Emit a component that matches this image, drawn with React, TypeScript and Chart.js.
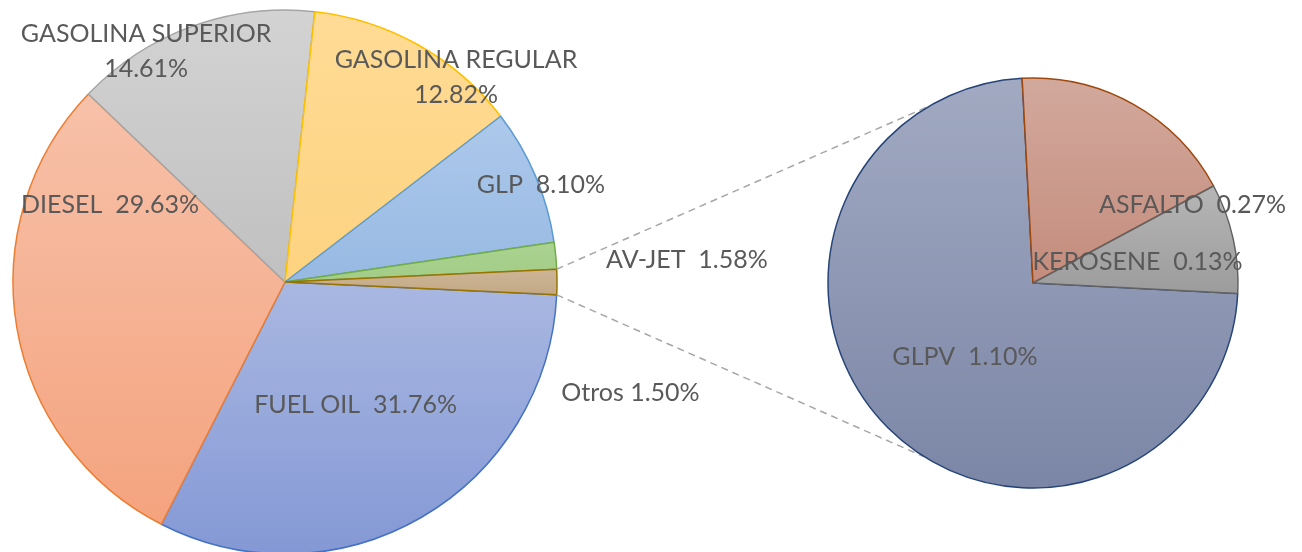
import React, { useEffect, useRef } from "react";
import { Chart, registerables } from "chart.js";

Chart.register(...registerables);

// ---------- data ----------
const mainCategories = ["FUEL OIL", "DIESEL", "GASOLINA SUPERIOR", "GASOLINA REGULAR", "GLP", "AV-JET", "Otros"];
const mainValues = [31.76, 29.63, 14.61, 12.82, 8.1, 1.58, 1.5];
const subCategories = ["GLPV", "ASFALTO", "KEROSENE"];
const subValues = [1.1, 0.27, 0.13];

// ---------- styles ----------
const mainFillTop = ["#A9B8E1", "#F7C1A9", "#D3D3D3", "#FFDB95", "#ADC9EB", "#ABD291", "#CCB597"];
const mainFillBottom = ["#8498D5", "#F4A37E", "#C0C0C0", "#FDD381", "#97B9E2", "#A2CC86", "#C3A884"];
const mainBorder = ["#4472C4", "#ED7D31", "#A5A5A5", "#FFC000", "#5B9BD5", "#70AD47", "#997300"];
const subFillTop = ["#A2AAC2", "#D2A99D", "#B6B6B6"];
const subFillBottom = ["#7B86A6", "#C48C7C", "#9C9C9C"];
const subBorder = ["#264478", "#9E480E", "#636363"];

const MAIN_ROTATION = 92.7;
const SUB_ROTATION = 92.96;
const MAIN_RADIUS = 272;
const SUB_RADIUS = 205;

// label placement: angle (deg, screen) and distance (fraction of radius) from pie centre
const mainLabelAngle = [59.9, 204.0, 239.1, 309.7, 339.0, 356.7, 17.7];
const mainLabelDist = [0.517, 0.704, 0.994, 0.984, 1.008, 1.48, 1.333];
const mainLabelSplit = [false, false, true, true, false, false, false];
const mainLabelSep = ["  ", "  ", "", "", "  ", "  ", " "];
const subLabelAngle = [133.0, 333.7, 348.1];
const subLabelDist = [0.487, 0.868, 0.521];
const subLabelSep = ["  ", "  ", "  "];

const CONNECTOR_ANGLES = [-120, 122];

const FONT_SIZE = 25;
const FONT = `${FONT_SIZE}px Lato, "Open Sans", sans-serif`;
const TEXT_COLOR = "#595959";
const LINE_GAP = 35;

const pct = (v: number) => v.toFixed(2) + "%";

function sliceYRange(values: number[], i: number, rotationDeg: number, cy: number, r: number) {
  const total = values.reduce((a, b) => a + b, 0);
  let before = 0;
  for (let k = 0; k < i; k++) before += values[k];
  const a0 = rotationDeg - 90 + (before / total) * 360;
  const a1 = a0 + (values[i] / total) * 360;
  const rad = (d: number) => (d * Math.PI) / 180;
  const ys = [cy, cy + r * Math.sin(rad(a0)), cy + r * Math.sin(rad(a1))];
  for (let k = -720; k <= 720; k += 180) {
    if (k + 90 > a0 && k + 90 < a1) ys.push(cy + r * Math.sin(rad(k + 90)));
  }
  return [Math.min(...ys), Math.max(...ys)];
}

function gradientFill(values: number[], tops: string[], bottoms: string[], rotation: number, radius: number) {
  return (c: any) => {
    const i = c.dataIndex ?? 0;
    const chart = c.chart;
    const area = chart.chartArea;
    if (!area) return tops[i];
    const cy = (area.top + area.bottom) / 2;
    const [y0, y1] = sliceYRange(values, i, rotation, cy, radius);
    const g = chart.ctx.createLinearGradient(0, y0, 0, Math.max(y1, y0 + 1));
    g.addColorStop(0, tops[i]);
    g.addColorStop(1, bottoms[i]);
    return g;
  };
}

function makeLabelPlugin(lineSets: string[][], angles: number[], dists: number[]) {
  return {
    id: "sliceLabels",
    afterDatasetsDraw(chart: any) {
      const arc = chart.getDatasetMeta(0).data[0];
      if (!arc) return;
      const { x: cx, y: cy, outerRadius: r } = arc.getProps(["x", "y", "outerRadius"], true);
      const ctx = chart.ctx;
      ctx.save();
      ctx.font = FONT;
      ctx.fillStyle = TEXT_COLOR;
      ctx.textAlign = "center";
      ctx.textBaseline = "alphabetic";
      const capHalf = FONT_SIZE * 0.36;
      lineSets.forEach((lines, i) => {
        const a = (angles[i] * Math.PI) / 180;
        const lx = cx + Math.cos(a) * r * dists[i];
        const ly = cy + Math.sin(a) * r * dists[i];
        const n = lines.length;
        lines.forEach((t, j) => {
          const yy = ly + (j - (n - 1) / 2) * LINE_GAP + capHalf;
          ctx.fillText(t, lx, yy);
        });
      });
      ctx.restore();
    },
  };
}

function makeConnectorPlugin(getRight: () => any) {
  return {
    id: "pieConnectors",
    afterDatasetsDraw(chart: any) {
      const right = getRight();
      if (!right) return;
      const otros = chart.getDatasetMeta(0).data[mainCategories.length - 1];
      const rArc = right.getDatasetMeta(0).data[0];
      if (!otros || !rArc) return;
      const o = otros.getProps(["x", "y", "outerRadius", "startAngle", "endAngle"], true);
      const s = rArc.getProps(["x", "y", "outerRadius"], true);
      const ends = [o.startAngle, o.endAngle];
      const ctx = chart.ctx;
      ctx.save();
      ctx.strokeStyle = "#A6A6A6";
      ctx.lineWidth = 1.5;
      ctx.setLineDash([7, 5]);
      ends.forEach((ang: number, k: number) => {
        const x0 = o.x + o.outerRadius * Math.cos(ang);
        const y0 = o.y + o.outerRadius * Math.sin(ang);
        const t = (CONNECTOR_ANGLES[k] * Math.PI) / 180;
        const x1 = s.x + s.outerRadius * Math.cos(t);
        const y1 = s.y + s.outerRadius * Math.sin(t);
        ctx.beginPath();
        ctx.moveTo(x0, y0);
        ctx.lineTo(x1, y1);
        ctx.stroke();
      });
      ctx.restore();
    },
  };
}

const W = 1302;
const H = 552;
const CH = 564;

export default function App() {
  const leftRef = useRef<HTMLCanvasElement>(null);
  const rightRef = useRef<HTMLCanvasElement>(null);

  useEffect(() => {
    document.body.style.margin = "0";
    const mainLines = mainCategories.map((c, i) =>
      mainLabelSplit[i] ? [c, pct(mainValues[i])] : [c + mainLabelSep[i] + pct(mainValues[i])]
    );
    const subLines = subCategories.map((c, i) => [c + subLabelSep[i] + pct(subValues[i])]);

    const baseOptions = (padding: any) => ({
      responsive: false,
      maintainAspectRatio: false,
      animation: false as const,
      events: [] as any[],
      layout: { padding },
      plugins: { legend: { display: false }, tooltip: { enabled: false } },
    });

    const right = new Chart(rightRef.current as HTMLCanvasElement, {
      type: "pie",
      data: {
        labels: subCategories,
        datasets: [
          {
            data: subValues,
            backgroundColor: gradientFill(subValues, subFillTop, subFillBottom, SUB_ROTATION, SUB_RADIUS) as any,
            borderColor: subBorder,
            borderWidth: 1.5,
            rotation: SUB_ROTATION,
            radius: SUB_RADIUS,
          } as any,
        ],
      },
      options: baseOptions({ left: 828, right: 64, top: 78, bottom: 76 }) as any,
      plugins: [makeLabelPlugin(subLines, subLabelAngle, subLabelDist)],
    });

    const left = new Chart(leftRef.current as HTMLCanvasElement, {
      type: "pie",
      data: {
        labels: mainCategories,
        datasets: [
          {
            data: mainValues,
            backgroundColor: gradientFill(mainValues, mainFillTop, mainFillBottom, MAIN_ROTATION, MAIN_RADIUS) as any,
            borderColor: mainBorder,
            borderWidth: 1.5,
            rotation: MAIN_ROTATION,
            radius: MAIN_RADIUS,
          } as any,
        ],
      },
      options: baseOptions({ left: 13, right: 745, top: 10, bottom: 10 }) as any,
      plugins: [makeConnectorPlugin(() => right), makeLabelPlugin(mainLines, mainLabelAngle, mainLabelDist)],
    });

    return () => {
      left.destroy();
      right.destroy();
    };
  }, []);

  return (
    <div
      style={{
        position: "fixed",
        left: 0,
        top: 0,
        width: W,
        height: H,
        overflow: "hidden",
        background: "#ffffff",
      }}
    >
      <canvas ref={leftRef} width={W} height={CH} style={{ position: "absolute", left: 0, top: 0 }} />
      <canvas ref={rightRef} width={W} height={CH} style={{ position: "absolute", left: 0, top: 0 }} />
    </div>
  );
}
